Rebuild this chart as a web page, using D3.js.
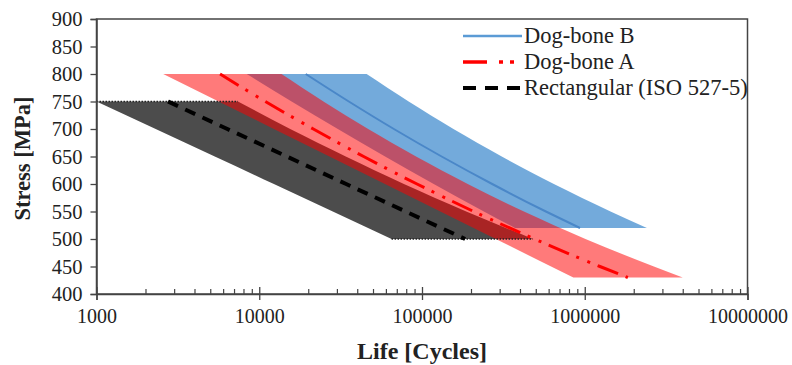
<!DOCTYPE html>
<html><head><meta charset="utf-8">
<script src="https://cdn.jsdelivr.net/npm/d3@7"></script>
<style>body{margin:0;background:#fff}svg{display:block}</style>
</head><body>
<svg id="c" width="792" height="365"></svg>
<script>
// ---- data ----
const xTickValues = [1000, 10000, 100000, 1000000, 10000000];
const yTickValues = [400, 450, 500, 550, 600, 650, 700, 750, 800, 850, 900];
const seriesNames = ["Dog-bone B", "Dog-bone A", "Rectangular (ISO 527-5)"];

// Dog-bone B
const stressB = [800, 750, 700, 650, 600, 550, 520];
const lowerB = [8370, 15800, 30400, 59300, 118000, 240000, 373000];
const meanB  = [19300, 35500, 67200, 132000, 270000, 577000, 935000];
const upperB = [45700, 82800, 156000, 309000, 646000, 1440000, 2410000];

// Dog-bone A
const stressA = [800, 750, 700, 650, 600, 550, 500, 450, 430];
const lowerA = [2570, 5630, 12300, 27000, 59200, 129500, 284000, 621000, 851000];
const meanA  = [5740, 10900, 21500, 43800, 93200, 208000, 491000, 1240000, 1840000];
const upperA = [13700, 24800, 46700, 91900, 191000, 423000, 1010000, 2660000, 4000000];

// Rectangular (ISO 527-5)
const stressR = [750, 700, 650, 600, 550, 500];
const lowerR = [1000, 2310, 5330, 12300, 28300, 65000];
const meanR  = [2750, 6370, 14800, 34200, 79300, 184000];
const upperR = [7400, 15500, 34000, 77400, 187000, 481000];

// ---- chart ----
const svg = d3.select("#c");
const FONT = "'Liberation Serif','Times New Roman',serif";
const x = d3.scaleLog().domain([1000, 10000000]).range([96.5, 747.5]);
const y = d3.scaleLinear().domain([400, 900]).range([294, 19]);

function rows(s, lo, me, hi) { return s.map((v, i) => ({s: v, lo: lo[i], me: me[i], hi: hi[i]})); }
const B = rows(stressB, lowerB, meanB, upperB);
const A = rows(stressA, lowerA, meanA, upperA);
const R = rows(stressR, lowerR, meanR, upperR);

const area = d3.area().y(d => y(d.s)).x0(d => x(d.lo)).x1(d => x(d.hi)).curve(d3.curveMonotoneY);
const mline = d3.line().x(d => x(d.me)).y(d => y(d.s)).curve(d3.curveMonotoneY);

const g = svg.append("g");
g.append("path").datum(B).attr("d", area).attr("fill", "#5b9bd5").attr("fill-opacity", 0.85);
g.append("path").datum(R).attr("d", area).attr("fill", "#000").attr("fill-opacity", 0.7);
g.append("path").datum(A).attr("d", area).attr("fill", "#ff0000").attr("fill-opacity", 0.52);

// dotted horizontal limits of rectangular band
[R[0], R[R.length - 1]].forEach(d => {
  g.append("line").attr("x1", x(d.lo)).attr("x2", x(d.hi)).attr("y1", y(d.s)).attr("y2", y(d.s))
    .attr("stroke", "#222").attr("stroke-width", 1.4).attr("stroke-dasharray", "1.5,1.5");
});

// mean lines
g.append("path").datum(B).attr("d", mline).attr("fill", "none").attr("stroke", "#4a87c8").attr("stroke-width", 2);
g.append("path").datum(A).attr("d", mline).attr("fill", "none").attr("stroke", "#ff0000").attr("stroke-width", 3)
  .attr("stroke-dasharray", "22,8,3,9,3,8");
g.append("path").datum(R).attr("d", mline).attr("fill", "none").attr("stroke", "#000").attr("stroke-width", 4)
  .attr("stroke-dasharray", "11,8");

// frame
svg.append("rect").attr("x", x(1000)).attr("y", y(900)).attr("width", x(1e7) - x(1000)).attr("height", y(400) - y(900))
  .attr("fill", "none").attr("stroke", "#444").attr("stroke-width", 1.5);

// axes
const yAxis = d3.axisLeft(y).tickValues(yTickValues).tickSize(6).tickPadding(8).tickFormat(d3.format("d"));
const ya = svg.append("g").attr("transform", `translate(${x(1000)},0)`).call(yAxis);
ya.select(".domain").attr("stroke", "#444").attr("stroke-width", 1.5);
ya.selectAll(".tick line").attr("stroke", "#444").attr("stroke-width", 1.3);
ya.selectAll("text").attr("font-family", FONT).attr("font-size", 20.5).attr("fill", "#222");

const xAxis = d3.axisBottom(x).tickValues(xTickValues).tickSize(6).tickPadding(9).tickFormat(d3.format("d"));
const xa = svg.append("g").attr("transform", `translate(0,${y(400)})`).call(xAxis);
xa.select(".domain").attr("stroke", "#444").attr("stroke-width", 1.5);
xa.selectAll(".tick line").attr("stroke", "#444").attr("stroke-width", 1.3);
xa.selectAll("text").attr("font-family", FONT).attr("font-size", 20).attr("fill", "#222");

const xaUp = d3.axisBottom(x).tickValues(xTickValues).tickSize(-7).tickFormat("");
const xu = svg.append("g").attr("transform", `translate(0,${y(400)})`).call(xaUp);
xu.select(".domain").remove();
xu.selectAll(".tick line").attr("stroke", "#444").attr("stroke-width", 1.3);

const minor = [];
for (let e = 3; e < 7; e++) for (let m = 2; m <= 9; m++) minor.push(m * Math.pow(10, e));
const xaMinor = d3.axisBottom(x).tickValues(minor).tickSize(-5).tickFormat("");
const xm = svg.append("g").attr("transform", `translate(0,${y(400)})`).call(xaMinor);
xm.select(".domain").remove();
xm.selectAll(".tick line").attr("stroke", "#444").attr("stroke-width", 1.2);

// axis titles
svg.append("text").attr("x", 422).attr("y", 359).attr("text-anchor", "middle")
  .attr("font-family", FONT).attr("font-size", 24).attr("font-weight", "bold").attr("fill", "#222").text("Life [Cycles]");
svg.append("text").attr("transform", `translate(30,${(y(900) + y(400)) / 2 + 2}) rotate(-90)`).attr("text-anchor", "middle")
  .attr("font-family", FONT).attr("font-size", 22.5).attr("font-weight", "bold").attr("fill", "#222").text("Stress [MPa]");

// legend
const legend = svg.append("g");
const legStyles = [
  {stroke: "#5b9bd5", w: 2.5, dash: null, x2: 522},
  {stroke: "#ff0000", w: 3.5, dash: "24,12,4,7,4,30", x2: 517},
  {stroke: "#000", w: 4, dash: "13,9", x2: 521}
];
seriesNames.forEach((nm, i) => {
  const yy = 36 + i * 26;
  legend.append("line").attr("x1", 463).attr("x2", legStyles[i].x2).attr("y1", yy).attr("y2", yy)
    .attr("stroke", legStyles[i].stroke).attr("stroke-width", legStyles[i].w)
    .attr("stroke-dasharray", legStyles[i].dash);
  legend.append("text").attr("x", 524).attr("y", yy + 7).attr("font-family", FONT).attr("font-size", 22.5)
    .attr("fill", "#222").text(nm);
});
</script>
</body></html>
